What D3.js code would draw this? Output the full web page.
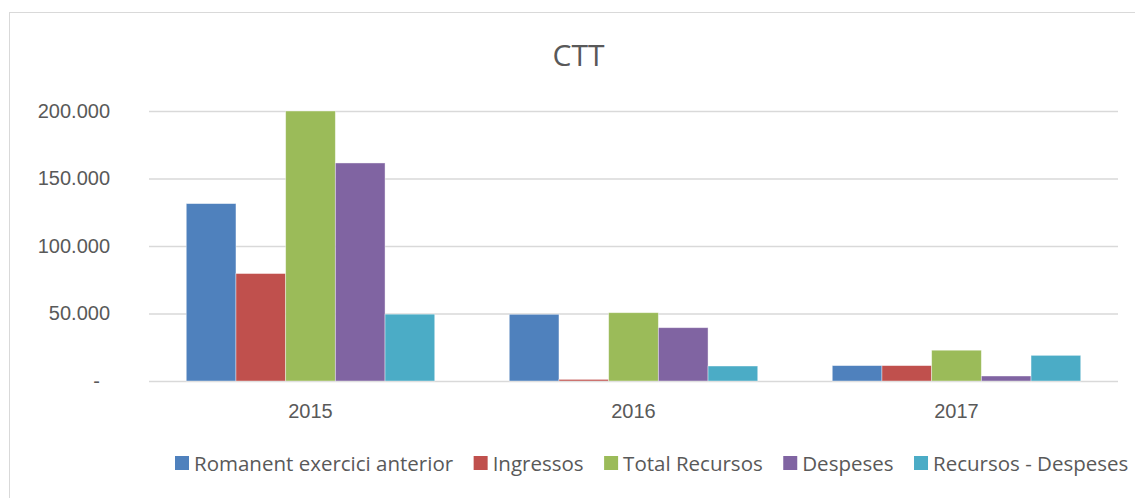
<!DOCTYPE html>
<html>
<head>
<meta charset="utf-8">
<script src="https://d3js.org/d3.v7.min.js"></script>
<style>
  body { margin: 0; background: #fff; }
  svg { display: block; font-family: "Open Sans", Roboto, sans-serif; }
</style>
</head>
<body>
<div id="chart"></div>
<script>
// chart data
const years = ["2015", "2016", "2017"];
const seriesNames = ["Romanent exercici anterior", "Ingressos", "Total Recursos", "Despeses", "Recursos - Despeses"];
const romanent = [131400, 49400, 11400];
const ingressos = [79600, 1200, 11400];
const totalRecursos = [211000, 50600, 22800];
const despeses = [161500, 39500, 3700];
const recursosDespeses = [49500, 11100, 19000];
const yTicks = [0, 50000, 100000, 150000, 200000];
const colors = ["#4F81BD", "#C0504D", "#9BBB59", "#8064A2", "#4BACC6"];

const seriesValues = [romanent, ingressos, totalRecursos, despeses, recursosDespeses];

function drawChart({ containerId, width, height }) {
    const margin = { left: 149, right: width - 1118, top: 111, bottom: height - 381 };
    const plotW = width - margin.left - margin.right;
    const plotH = height - margin.top - margin.bottom;

    const svg = d3.select(containerId)
        .append("svg")
        .attr("width", width)
        .attr("height", height);

    // outer chart border (runs off the right and bottom edge)
    svg.append("rect")
        .attr("x", 9.5)
        .attr("y", 12.5)
        .attr("width", width + 20)
        .attr("height", height + 20)
        .attr("fill", "none")
        .attr("stroke", "#d9d9d9")
        .attr("stroke-width", 1);

    svg.append("text")
        .attr("x", 578.5)
        .attr("y", 66)
        .attr("text-anchor", "middle")
        .attr("font-size", "30px")
        .attr("fill", "#595959")
        .text("CTT");

    const g = svg.append("g")
        .attr("transform", `translate(${margin.left},${margin.top})`);

    const x0 = d3.scaleBand().domain(years).range([0, plotW]).padding(0);
    const x1 = d3.scaleBand().domain(seriesNames).range([0, x0.bandwidth()])
        .paddingInner(0).paddingOuter(0.75);
    const y = d3.scaleLinear().domain([0, 200000]).range([plotH, 0]).clamp(true);

    const yAxis = g.append("g")
        .call(d3.axisLeft(y)
            .tickValues(yTicks)
            .tickSize(-plotW)
            .tickPadding(39)
            .tickFormat(d => d === 0 ? "-" : d3.format(",")(d).replace(/,/g, ".")));
    yAxis.select(".domain").remove();
    yAxis.selectAll("line")
        .attr("stroke", "#d9d9d9")
        .attr("stroke-width", 1.5);
    yAxis.selectAll("text")
        .attr("font-size", "20px")
        .attr("fill", "#595959")
        .attr("dx", d => d === 0 ? -10 : 0);

    const rows = years.map((yr, i) => ({
        year: yr,
        values: seriesNames.map((s, j) => ({ key: s, value: seriesValues[j][i], color: colors[j] }))
    }));

    g.selectAll("g.year")
        .data(rows)
        .enter()
        .append("g")
        .attr("class", "year")
        .attr("transform", d => `translate(${x0(d.year)},0)`)
        .selectAll("rect")
        .data(d => d.values)
        .enter()
        .append("rect")
        .attr("x", d => x1(d.key))
        .attr("y", d => y(d.value))
        .attr("width", x1.bandwidth())
        .attr("height", d => plotH - y(d.value))
        .attr("fill", d => d.color)
        .attr("stroke", "#ffffff")
        .attr("stroke-opacity", 0.5)
        .attr("stroke-width", 0.8);

    const xAxis = g.append("g")
        .attr("transform", `translate(0,${plotH})`)
        .call(d3.axisBottom(x0).tickSize(0));
    xAxis.select(".domain").remove();
    xAxis.selectAll("text")
        .attr("y", 37)
        .attr("dy", 0)
        .attr("font-size", "20px")
        .attr("fill", "#595959");

    // legend along the bottom, laid out by measured text width
    const legend = svg.append("g")
        .attr("transform", "translate(175,463)");
    let cx = 0;
    seriesNames.forEach((name, i) => {
        const item = legend.append("g").attr("transform", `translate(${cx},0)`);
        item.append("rect")
            .attr("x", 0)
            .attr("y", -7)
            .attr("width", 14)
            .attr("height", 14)
            .attr("fill", colors[i]);
        const t = item.append("text")
            .attr("x", 19)
            .attr("y", 7.5)
            .attr("font-size", "20.5px")
            .attr("fill", "#595959")
            .text(name);
        cx += 19 + t.node().getComputedTextLength() + 20.5;
    });
}

drawChart({ containerId: "#chart", width: 1135, height: 498 });
</script>
</body>
</html>
